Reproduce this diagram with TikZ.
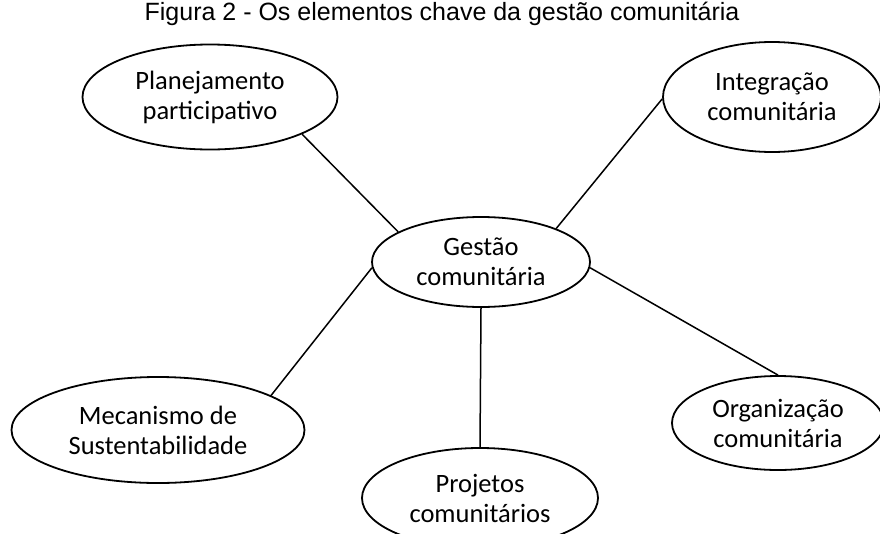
\documentclass[tikz,border=0pt]{standalone}
\usepackage{fontspec}
\setmainfont{Carlito}
\newfontfamily\titlefont{Liberation Sans}
\usetikzlibrary{shapes.geometric}

\begin{document}
\begin{tikzpicture}[x=1pt, y=-1pt,
                    elem/.style={ellipse, draw, line width=1.8pt, inner sep=0pt, align=center,
                                 font=\fontsize{26.5}{30}\selectfont},
                    link/.style={line width=1.5pt}]
\useasboundingbox (0,0) rectangle (880,533);

\node[anchor=base, font=\fontsize{25}{28}\selectfont\titlefont] (titulo) at (442,20)
    {Figura 2 - Os elementos chave da gestão comunitária};

\node[elem, minimum width=255pt, minimum height=105pt] (plan) at (210,97)
    {Planejamento\\participativo};
\node[elem, minimum width=218pt, minimum height=110pt] (integ) at (772,97)
    {Integração\\comunitária};
\node[elem, minimum width=218pt, minimum height=90pt] (gest) at (481,262)
    {Gestão\\comunitária};
\node[elem, minimum width=293pt, minimum height=106pt] (mec) at (158,430)
    {Mecanismo de\\Sustentabilidade};
\node[elem, minimum width=236pt, minimum height=100pt] (proj) at (480,498)
    {Projetos\\comunitários};
\node[elem, minimum width=212pt, minimum height=94pt] (org) at (778,423)
    {Organização\\comunitária};

% ligacoes
\draw[link] (plan.-22) -- (gest.160);
\draw[link] (integ.181) -- (gest.24);
\draw[link] (gest.183) -- (mec.17);
\draw[link] (gest.south) -- (proj.north);
\draw[link] (gest.-3) -- (org.north);
\end{tikzpicture}
\end{document}
